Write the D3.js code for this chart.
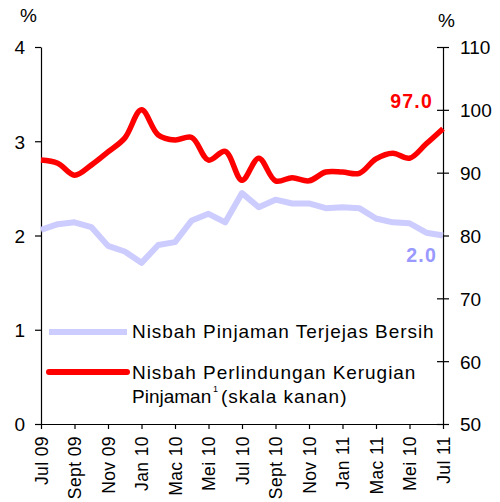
<!DOCTYPE html>
<html>
<head>
<meta charset="utf-8">
<script src="https://cdn.jsdelivr.net/npm/d3@7"></script>
<style>
  body { margin: 0; background: #fff; }
  svg text { font-family: "Liberation Sans", Arial, sans-serif; fill: #000; }
  .axis path, .axis line { stroke: #000; stroke-width: 1.2; }
</style>
</head>
<body>
<div class="visHolder"></div>
<script>
// monthly, Jul 09 .. Jul 11
const months = d3.range(25);
const tickLabels = ["Jul 09", "Sept 09", "Nov 09", "Jan 10", "Mac 10", "Mei 10", "Jul 10",
  "Sept 10", "Nov 10", "Jan 11", "Mac 11", "Mei 10", "Jul 11"];
const netImpaired = [2.06, 2.12, 2.14, 2.09, 1.89, 1.83, 1.71, 1.90, 1.93, 2.16, 2.23, 2.14, 2.45,
  2.30, 2.38, 2.34, 2.34, 2.29, 2.30, 2.29, 2.18, 2.14, 2.13, 2.03, 2.00];
const lossCoverage = [92.0, 91.5, 89.6, 91.2, 93.3, 95.5, 100.0, 96.0, 95.2, 95.6, 92.0, 93.4, 88.8,
  92.3, 88.7, 89.2, 88.7, 90.1, 90.1, 89.9, 92.2, 93.1, 92.3, 94.6, 97.0];
const leftTicks = [0, 1, 2, 3, 4];
const rightTicks = [50, 60, 70, 80, 90, 100, 110];

const width = 500;
const height = 502;

const svg = d3.select(".visHolder").append("svg")
  .attr("width", width)
  .attr("height", height);

const x = d3.scaleLinear().domain([0, 24]).range([41, 443]);
const yL = d3.scaleLinear().domain([0, 4]).range([424, 47]);
const yR = d3.scaleLinear().domain([50, 110]).range([424, 47]);

// left axis
svg.append("g")
  .attr("class", "axis")
  .attr("transform", "translate(41,0)")
  .call(d3.axisLeft(yL).tickValues(leftTicks).tickFormat(d3.format("d"))
    .tickSizeInner(6).tickSizeOuter(0).tickPadding(10))
  .call(g => g.selectAll("text").attr("font-size", 19).attr("dy", "0.36em"));

// right axis (ticks cross the line)
svg.append("g")
  .attr("class", "axis")
  .attr("transform", "translate(443,0)")
  .call(d3.axisRight(yR).tickValues(rightTicks).tickFormat(d3.format("d"))
    .tickSizeInner(6).tickSizeOuter(0).tickPadding(11))
  .call(g => g.selectAll(".tick line").attr("x1", -6))
  .call(g => g.selectAll("text").attr("font-size", 19).attr("dy", "0.36em"));

// bottom axis
svg.append("g")
  .attr("class", "axis")
  .attr("transform", "translate(0,424)")
  .call(d3.axisBottom(x).tickValues(d3.range(0, 25, 2))
    .tickFormat((d, i) => tickLabels[i]).tickSizeInner(5).tickSizeOuter(0))
  .call(g => g.selectAll("text")
    .attr("font-size", 17.5)
    .attr("letter-spacing", 0.4)
    .attr("text-anchor", "end")
    .attr("transform", "rotate(-90)")
    .attr("x", -12)
    .attr("y", 0)
    .attr("dy", "0.36em"));

// % labels
svg.append("text").attr("x", 20).attr("y", 22).attr("font-size", 19).text("%");
svg.append("text").attr("x", 438).attr("y", 27).attr("font-size", 19).text("%");

// lines
const blueLine = d3.line()
  .x((d, i) => x(months[i]))
  .y(d => yL(d));

const redLine = d3.line()
  .x((d, i) => x(months[i]))
  .y(d => yR(d))
  .curve(d3.curveCatmullRom.alpha(0.5));

svg.append("path")
  .datum(netImpaired)
  .attr("fill", "none")
  .attr("stroke", "#ccccff")
  .attr("stroke-width", 6)
  .attr("stroke-linejoin", "round")
  .attr("d", blueLine);

svg.append("path")
  .datum(lossCoverage)
  .attr("fill", "none")
  .attr("stroke", "#ff0000")
  .attr("stroke-width", 5.5)
  .attr("stroke-linejoin", "round")
  .attr("d", redLine);

// end labels
svg.append("text")
  .attr("x", 433).attr("y", 108)
  .attr("text-anchor", "end")
  .attr("font-size", 19.5).attr("font-weight", "bold")
  .attr("letter-spacing", 1.2)
  .style("fill", "#ff0000")
  .text(d3.format(".1f")(lossCoverage[24]));

svg.append("text")
  .attr("x", 437).attr("y", 262)
  .attr("text-anchor", "end")
  .attr("font-size", 19.5).attr("font-weight", "bold")
  .attr("letter-spacing", 1.2)
  .style("fill", "#9999ff")
  .text(d3.format(".1f")(netImpaired[24]));

// legend
const legend = svg.append("g");
legend.append("line")
  .attr("x1", 49).attr("x2", 127).attr("y1", 332).attr("y2", 332)
  .attr("stroke", "#ccccff").attr("stroke-width", 6);
legend.append("text")
  .attr("x", 132).attr("y", 338)
  .attr("font-size", 19).attr("letter-spacing", 0.95)
  .text("Nisbah Pinjaman Terjejas Bersih");

legend.append("line")
  .attr("x1", 49).attr("x2", 127).attr("y1", 372).attr("y2", 372)
  .attr("stroke", "#ff0000").attr("stroke-width", 6).attr("stroke-linecap", "round");
legend.append("text")
  .attr("x", 132).attr("y", 379)
  .attr("font-size", 19).attr("letter-spacing", 0.95)
  .text("Nisbah Perlindungan Kerugian");
legend.append("text")
  .attr("x", 132).attr("y", 403)
  .attr("font-size", 19)
  .text("Pinjaman");
legend.append("text")
  .attr("x", 213).attr("y", 392)
  .attr("font-size", 9)
  .text("1");
legend.append("text")
  .attr("x", 221).attr("y", 403)
  .attr("font-size", 19).attr("letter-spacing", 0.95)
  .text("(skala kanan)");
</script>
</body>
</html>
